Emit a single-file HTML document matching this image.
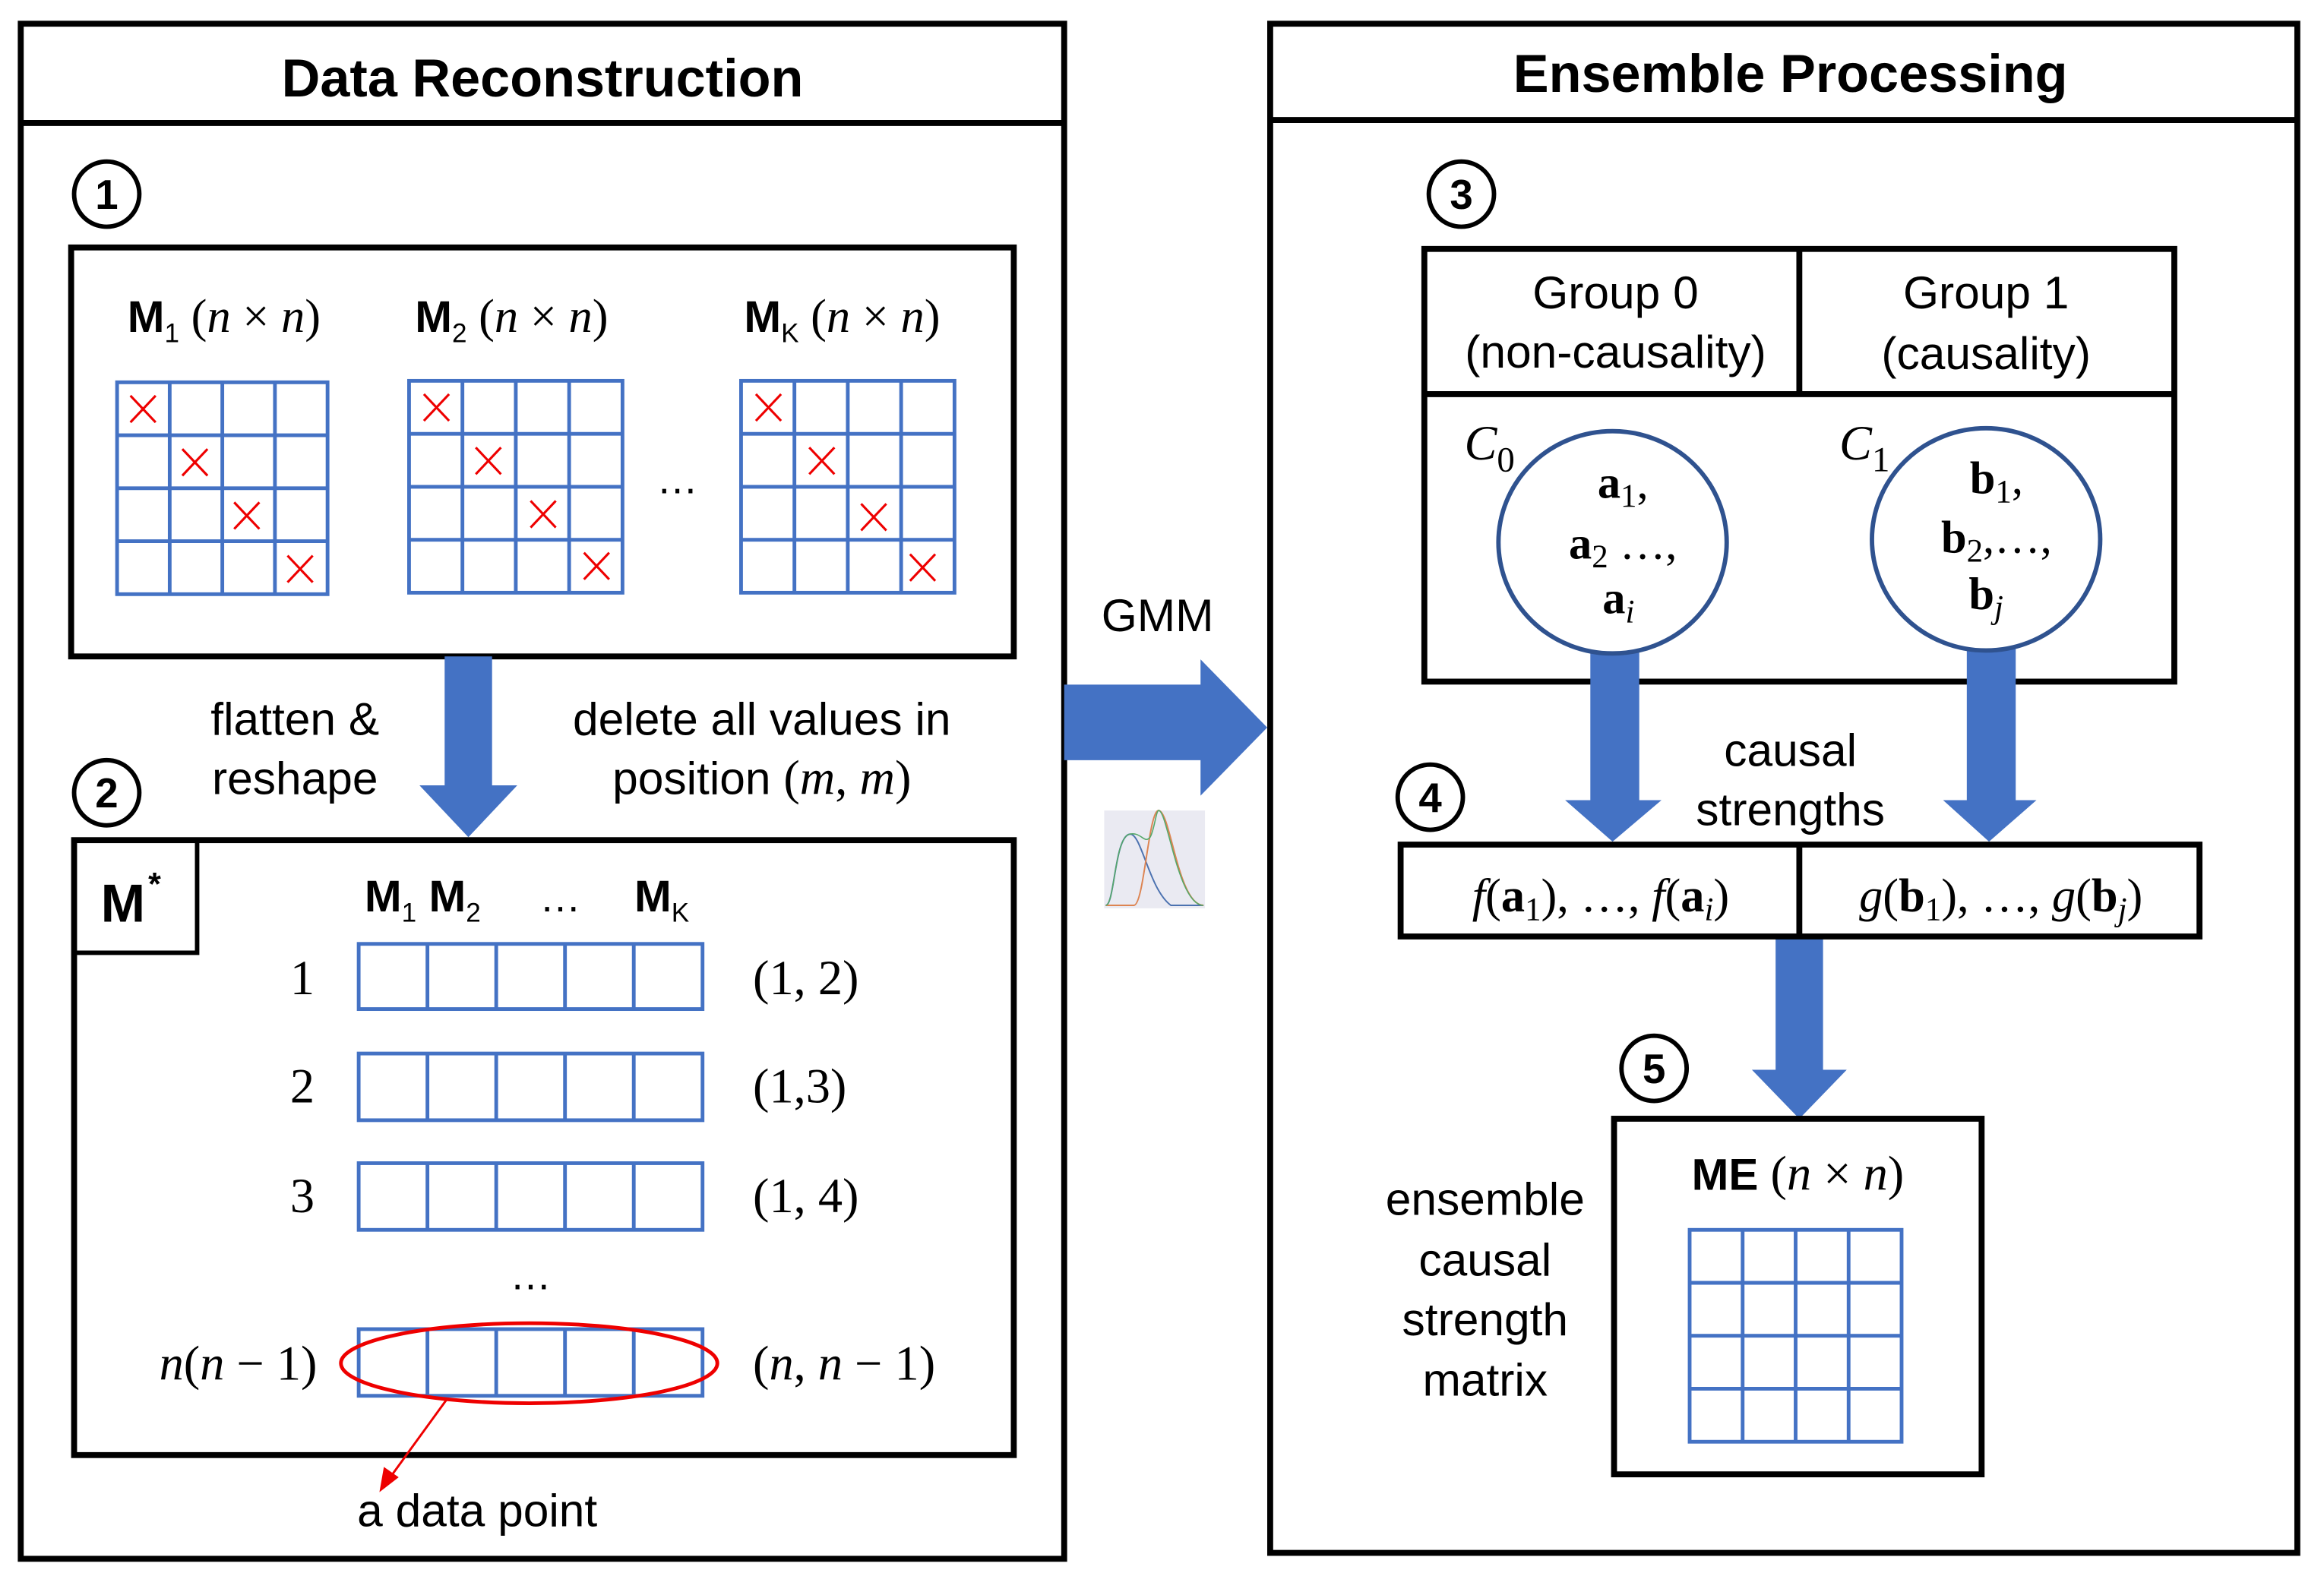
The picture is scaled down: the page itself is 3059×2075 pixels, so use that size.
<!DOCTYPE html>
<html><head><meta charset="utf-8"><style>
html,body{margin:0;padding:0;background:#fff}
svg{display:block}
.s{font-family:"Liberation Sans",sans-serif;fill:#000}
.b{font-family:"Liberation Sans",sans-serif;font-weight:bold;fill:#000}
.m{font-family:"Liberation Serif",serif;fill:#000}
.mi{font-family:"Liberation Serif",serif;font-style:italic;fill:#000}
</style></head><body>
<svg width="3059" height="2075" viewBox="0 0 1568 1063.6" xmlns="http://www.w3.org/2000/svg">
<rect width="1568" height="1064" fill="#fff"/>
<!-- LEFT PANEL -->
<rect x="14" y="16" width="704" height="1036" fill="none" stroke="#000" stroke-width="4"/>
<line x1="14" y1="83" x2="718" y2="83" stroke="#000" stroke-width="4"/>
<text x="366" y="65" class="b" font-size="36" text-anchor="middle">Data Reconstruction</text>
<circle cx="72" cy="131" r="22" fill="none" stroke="#000" stroke-width="3"/>
<text x="72" y="141" class="b" font-size="28" text-anchor="middle">1</text>
<rect x="48" y="167" width="636" height="276" fill="none" stroke="#000" stroke-width="4"/>
<text x="86" y="224" font-size="32"><tspan class="b" font-size="30">M</tspan><tspan class="s" font-size="18" dy="7">1</tspan><tspan class="m" dy="-7"> (</tspan><tspan class="mi">n</tspan><tspan class="m"> × </tspan><tspan class="mi">n</tspan><tspan class="m">)</tspan></text>
<text x="280" y="224" font-size="32"><tspan class="b" font-size="30">M</tspan><tspan class="s" font-size="18" dy="7">2</tspan><tspan class="m" dy="-7"> (</tspan><tspan class="mi">n</tspan><tspan class="m"> × </tspan><tspan class="mi">n</tspan><tspan class="m">)</tspan></text>
<text x="502" y="224" font-size="32"><tspan class="b" font-size="30">M</tspan><tspan class="s" font-size="18" dy="7">K</tspan><tspan class="m" dy="-7"> (</tspan><tspan class="mi">n</tspan><tspan class="m"> × </tspan><tspan class="mi">n</tspan><tspan class="m">)</tspan></text>
<g fill="none" stroke="#4472c4" stroke-width="2.5">
<rect x="79" y="258" width="142" height="143"/><path d="M114.5 258V401M150 258V401M185.5 258V401M79 293.75H221M79 329.5H221M79 365.25H221"/>
<rect x="276" y="257" width="144" height="143"/><path d="M312 257V400M348 257V400M384 257V400M276 292.75H420M276 328.5H420M276 364.25H420"/>
<rect x="500" y="257" width="144" height="143"/><path d="M536 257V400M572 257V400M608 257V400M500 292.75H644M500 328.5H644M500 364.25H644"/>
</g>
<g stroke="#e00" stroke-width="1.6">
<path d="M88 267L105 285M105 267L88 285M123 303L140 321M140 303L123 321M158 339L175 357M175 339L158 357M194 375L211 393M211 375L194 393"/>
<path d="M286 266L303 284M303 266L286 284M321 302L338 320M338 302L321 320M358 338L375 356M375 338L358 356M394 373L411 391M411 373L394 391"/>
<path d="M510 266L527 284M527 266L510 284M546 302L563 320M563 302L546 320M581 340L598 358M598 340L581 358M614 374L631 392M631 374L614 392"/>
</g>
<text x="457" y="333" class="s" font-size="28" text-anchor="middle">…</text>
<path d="M300 443H332V530H349L316 565L283 530H300Z" fill="#4472c4"/>
<text x="199" y="496" class="s" font-size="31" text-anchor="middle">flatten &amp;</text>
<text x="199" y="536" class="s" font-size="31" text-anchor="middle">reshape</text>
<text x="514" y="496" class="s" font-size="31" text-anchor="middle">delete all values in</text>
<text x="514" y="536" font-size="31" text-anchor="middle"><tspan class="s">position </tspan><tspan class="m" font-size="33">(</tspan><tspan class="mi" font-size="33">m</tspan><tspan class="m" font-size="33">, </tspan><tspan class="mi" font-size="33">m</tspan><tspan class="m" font-size="33">)</tspan></text>
<circle cx="72" cy="535" r="22" fill="none" stroke="#000" stroke-width="3"/>
<text x="72" y="545" class="b" font-size="28" text-anchor="middle">2</text>
<rect x="50" y="567" width="634" height="415" fill="none" stroke="#000" stroke-width="4"/>
<path d="M50 643H133V567" fill="none" stroke="#000" stroke-width="3"/>
<text x="68" y="622" class="b" font-size="36">M</text><text x="100" y="604" class="b" font-size="22">*</text>
<text x="246" y="615" font-size="30"><tspan class="b">M</tspan><tspan class="s" font-size="18" dy="7">1</tspan><tspan class="b" dy="-7"> M</tspan><tspan class="s" font-size="18" dy="7">2</tspan></text>
<text x="378" y="615" class="s" font-size="28" text-anchor="middle">…</text>
<text x="428" y="615" font-size="30"><tspan class="b">M</tspan><tspan class="s" font-size="18" dy="7">K</tspan></text>
<g fill="none" stroke="#4472c4" stroke-width="2.5">
<rect x="242" y="637" width="232" height="44"/><path d="M288.4 637V681M334.8 637V681M381.2 637V681M427.6 637V681"/>
<rect x="242" y="711" width="232" height="45"/><path d="M288.4 711V756M334.8 711V756M381.2 711V756M427.6 711V756"/>
<rect x="242" y="785" width="232" height="45"/><path d="M288.4 785V830M334.8 785V830M381.2 785V830M427.6 785V830"/>
<rect x="242" y="897" width="232" height="45"/><path d="M288.4 897V942M334.8 897V942M381.2 897V942M427.6 897V942"/>
</g>
<g class="m" font-size="33">
<text x="204" y="671" text-anchor="middle">1</text>
<text x="204" y="744" text-anchor="middle">2</text>
<text x="204" y="818" text-anchor="middle">3</text>
<text x="508" y="671">(1, 2)</text>
<text x="508" y="744">(1,3)</text>
<text x="508" y="818">(1, 4)</text>
</g>
<text x="214" y="931" font-size="33" text-anchor="end"><tspan class="mi">n</tspan><tspan class="m">(</tspan><tspan class="mi">n</tspan><tspan class="m"> − 1)</tspan></text>
<text x="508" y="931" font-size="33"><tspan class="m">(</tspan><tspan class="mi">n</tspan><tspan class="m">, </tspan><tspan class="mi">n</tspan><tspan class="m"> − 1)</tspan></text>
<text x="358" y="870" class="s" font-size="28" text-anchor="middle">…</text>
<ellipse cx="357" cy="920" rx="127" ry="27" fill="none" stroke="#e00" stroke-width="2.5"/>
<line x1="301" y1="945" x2="264" y2="996" stroke="#e00" stroke-width="1.5"/>
<path d="M256 1007L259 990L269 997Z" fill="#e00"/>
<text x="322" y="1030" class="s" font-size="31" text-anchor="middle">a data point</text>
<!-- GMM -->
<path d="M718 462H810V445L855 491L810 537V513H718Z" fill="#4472c4"/>
<text x="781" y="426" class="s" font-size="31" text-anchor="middle">GMM</text>
<rect x="745" y="547" width="68" height="66" fill="#eaeaf2"/>
<path d="M746 611C752 611 752 565 762 563C770 561 775 600 790 611H812" fill="none" stroke="#4c72b0" stroke-width="1"/>
<path d="M746 611H765C772 611 775 545 782 547C790 549 795 611 812 611" fill="none" stroke="#dd8452" stroke-width="1"/>
<path d="M746 611C752 611 752 565 762 563C770 561 772 570 776 565C779 560 780 546 782 547C788 549 795 611 812 611" fill="none" stroke="#55a868" stroke-width="0.8"/>
<!-- RIGHT PANEL -->
<rect x="857" y="16" width="693" height="1032" fill="none" stroke="#000" stroke-width="4"/>
<line x1="857" y1="81" x2="1550" y2="81" stroke="#000" stroke-width="4"/>
<text x="1208" y="62" class="b" font-size="36" text-anchor="middle">Ensemble Processing</text>
<circle cx="986" cy="131" r="22" fill="none" stroke="#000" stroke-width="3"/>
<text x="986" y="141" class="b" font-size="28" text-anchor="middle">3</text>
<rect x="961" y="168" width="506" height="292" fill="none" stroke="#000" stroke-width="4"/>
<line x1="1214" y1="168" x2="1214" y2="266" stroke="#000" stroke-width="4"/>
<line x1="961" y1="266" x2="1467" y2="266" stroke="#000" stroke-width="4"/>
<g class="s" font-size="31" text-anchor="middle">
<text x="1090" y="208">Group 0</text><text x="1090" y="248">(non-causality)</text>
<text x="1340" y="208">Group 1</text><text x="1340" y="249">(causality)</text>
</g>
<text x="988" y="310" font-size="33"><tspan class="mi">C</tspan><tspan class="m" font-size="24" dy="8">0</tspan></text>
<text x="1241" y="310" font-size="33"><tspan class="mi">C</tspan><tspan class="m" font-size="24" dy="8">1</tspan></text>
<path d="M1073 438H1106V540H1121L1088 568L1056 540H1073Z" fill="#4472c4"/>
<path d="M1327 436H1360V540H1374L1342 568L1311 540H1327Z" fill="#4472c4"/>
<ellipse cx="1088" cy="366" rx="77" ry="75" fill="#fff" stroke="#2f528f" stroke-width="3"/>
<ellipse cx="1340" cy="364" rx="77" ry="75" fill="#fff" stroke="#2f528f" stroke-width="3"/>
<g font-size="31" text-anchor="middle">
<text x="1095" y="336"><tspan class="m" font-weight="bold">a</tspan><tspan class="m" font-size="22" dy="6">1</tspan><tspan class="m" dy="-6">,</tspan></text>
<text x="1095" y="377"><tspan class="m" font-weight="bold">a</tspan><tspan class="m" font-size="22" dy="6">2</tspan><tspan class="m" dy="-6"> …,</tspan></text>
<text x="1092" y="414"><tspan class="m" font-weight="bold">a</tspan><tspan class="mi" font-size="22" dy="6">i</tspan></text>
<text x="1347" y="333"><tspan class="m" font-weight="bold">b</tspan><tspan class="m" font-size="22" dy="6">1</tspan><tspan class="m" dy="-6">,</tspan></text>
<text x="1347" y="373"><tspan class="m" font-weight="bold">b</tspan><tspan class="m" font-size="22" dy="6">2</tspan><tspan class="m" dy="-6">,…,</tspan></text>
<text x="1340" y="411"><tspan class="m" font-weight="bold">b</tspan><tspan class="mi" font-size="22" dy="6">j</tspan></text>
</g>
<text x="1208" y="517" class="s" font-size="31" text-anchor="middle">causal</text>
<text x="1208" y="557" class="s" font-size="31" text-anchor="middle">strengths</text>
<circle cx="965" cy="538" r="22" fill="none" stroke="#000" stroke-width="3"/>
<text x="965" y="548" class="b" font-size="28" text-anchor="middle">4</text>
<path d="M1198 630H1230V722H1246L1214 755L1182 722H1198Z" fill="#4472c4"/>
<rect x="945" y="570" width="539" height="62" fill="#fff" stroke="#000" stroke-width="4"/>
<line x1="1214" y1="570" x2="1214" y2="632" stroke="#000" stroke-width="4"/>
<text x="1080" y="615" font-size="32" text-anchor="middle"><tspan class="mi">f</tspan><tspan class="m">(</tspan><tspan class="m" font-weight="bold">a</tspan><tspan class="m" font-size="22" dy="6">1</tspan><tspan class="m" dy="-6">), …, </tspan><tspan class="mi">f</tspan><tspan class="m">(</tspan><tspan class="m" font-weight="bold">a</tspan><tspan class="mi" font-size="22" dy="6">i</tspan><tspan class="m" dy="-6">)</tspan></text>
<text x="1350" y="615" font-size="32" text-anchor="middle"><tspan class="mi">g</tspan><tspan class="m">(</tspan><tspan class="m" font-weight="bold">b</tspan><tspan class="m" font-size="22" dy="6">1</tspan><tspan class="m" dy="-6">), …, </tspan><tspan class="mi">g</tspan><tspan class="m">(</tspan><tspan class="m" font-weight="bold">b</tspan><tspan class="mi" font-size="22" dy="6">j</tspan><tspan class="m" dy="-6">)</tspan></text>
<circle cx="1116" cy="721" r="22" fill="none" stroke="#000" stroke-width="3"/>
<text x="1116" y="731" class="b" font-size="28" text-anchor="middle">5</text>
<rect x="1089" y="755" width="248" height="240" fill="none" stroke="#000" stroke-width="4"/>
<text x="1213" y="803" font-size="33" text-anchor="middle"><tspan class="b" font-size="30">ME</tspan><tspan class="m"> (</tspan><tspan class="mi">n</tspan><tspan class="m"> × </tspan><tspan class="mi">n</tspan><tspan class="m">)</tspan></text>
<g fill="none" stroke="#4472c4" stroke-width="2.5">
<rect x="1140" y="830" width="143" height="143"/><path d="M1175.75 830V973M1211.5 830V973M1247.25 830V973M1140 865.75H1283M1140 901.5H1283M1140 937.25H1283"/>
</g>
<g class="s" font-size="31" text-anchor="middle">
<text x="1002" y="820">ensemble</text><text x="1002" y="861">causal</text><text x="1002" y="901">strength</text><text x="1002" y="942">matrix</text>
</g>
</svg>
</body></html>
